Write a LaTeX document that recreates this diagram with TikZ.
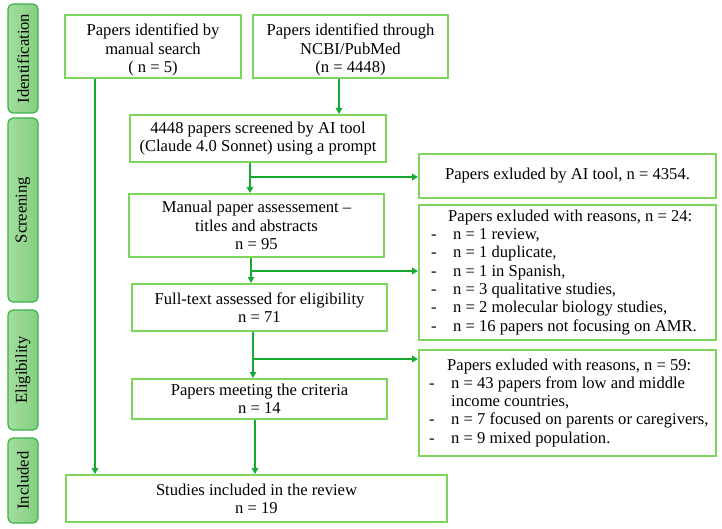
\documentclass[tikz,border=0pt]{standalone}
\usepackage{fontspec}
\setmainfont{Liberation Serif}
\usetikzlibrary{arrows.meta}
\definecolor{boxgreen}{HTML}{7DD65A}
\definecolor{arrgreen}{HTML}{16AA32}
\definecolor{phasefillL}{HTML}{A3DD9E}
\definecolor{phasefillR}{HTML}{84CF80}
\definecolor{phaseline}{HTML}{3DB04B}
\begin{document}
\begin{tikzpicture}[x=1pt,y=-1pt,
  font=\fontsize{16.6}{18.3}\selectfont,
  box/.style={draw=boxgreen,line width=2pt,inner sep=0pt,align=center},
  arr/.style={draw=arrgreen,line width=1.6pt,-{Triangle[length=6pt,width=6.5pt]}},
  phase/.style={draw=phaseline,line width=1.2pt,rounded corners=5pt,left color=phasefillL,right color=phasefillR,rotate=90,minimum height=30pt,inner sep=0pt},
  txt/.style={inner sep=0pt,align=left}]
\useasboundingbox (0,0) rectangle (722,529);

% phase labels
\node[phase,minimum width=109pt] (pid) at (23,58.5) {Identification};
\node[phase,minimum width=184pt] (psc) at (23,210) {Screening};
\node[phase,minimum width=120pt] (pel) at (23,370) {Eligibility};
\node[phase,minimum width=85pt] (pin) at (23,480.5) {Included};

% boxes
\node[box,minimum width=176pt,minimum height=63pt] (manual) at (153,46.5) {\rule{0pt}{19pt}Papers identified by\\manual search\\( n = 5)};
\node[box,minimum width=195pt,minimum height=63pt] (pubmed) at (350.5,46.5) {\rule{0pt}{19pt}Papers identified through\\NCBI/PubMed\\(n = 4448)};
\node[box,minimum width=256pt,minimum height=47pt] (ai) at (258,138.5) {4448 papers screened by AI tool\\(Claude 4.0 Sonnet) using a prompt};
\node[box,minimum width=297pt,minimum height=44pt] (exai) at (567.5,176) {Papers exluded by AI tool, n = 4354.};
\node[box,minimum width=255pt,minimum height=63pt] (manass) at (256.5,225.5) {Manual paper assessement --\\titles and abstracts\\n = 95};
\node[box,minimum width=297pt,minimum height=135pt] (ex24) at (567.5,272.5) {};
\node[box,minimum width=255pt,minimum height=47pt] (full) at (259.5,307.5) {Full-text assessed for eligibility\\n = 71};
\node[box,minimum width=297pt,minimum height=106pt] (ex59) at (567.5,403) {};
\node[box,minimum width=255pt,minimum height=40pt] (meet) at (259.5,399) {Papers meeting the criteria\\n = 14};
\node[box,minimum width=381pt,minimum height=47pt] (studies) at (256.5,498.5) {Studies included in the review\\n = 19};

% exclusion lists
\node[txt,anchor=west] (ex24t) at ([xshift=13pt]ex24.west) {\begin{tabular}{@{}p{22pt}@{}l@{}}
\multicolumn{2}{@{}l@{}}{\hspace*{17pt}Papers exluded with reasons, n = 24:}\\
- & n = 1 review,\\
- & n = 1 duplicate,\\
- & n = 1 in Spanish,\\
- & n = 3 qualitative studies,\\
- & n = 2 molecular biology studies,\\
- & n = 16 papers not focusing on AMR.
\end{tabular}};
\node[txt,anchor=west] (ex59t) at ([xshift=11pt]ex59.west) {\begin{tabular}{@{}p{22pt}@{}l@{}}
\multicolumn{2}{@{}l@{}}{\hspace*{18pt}Papers exluded with reasons, n = 59:}\\
- & n = 43 papers from low and middle\\
  & income countries,\\
- & n = 7 focused on parents or caregivers,\\
- & n = 9 mixed population.
\end{tabular}};

% connectors
\coordinate (xp) at (339,0);
\coordinate (xm) at (95,0);
\coordinate (xa) at (250,0);
\coordinate (xb) at (251,0);
\coordinate (xc) at (253,0);
\coordinate (xd) at (255,0);
\coordinate (b1) at (250,177);
\coordinate (b2) at (251,271);
\coordinate (b3) at (253,359);

\draw[arr] (pubmed.south -| xp) -- (ai.north -| xp);
\draw[arr] (manual.south -| xm) -- (studies.north -| xm);
\draw[arr] (ai.south -| xa) -- (manass.north -| xa);
\draw[arr] (b1) -- (b1 -| exai.west);
\draw[arr] (manass.south -| xb) -- (full.north -| xb);
\draw[arr] (b2) -- (b2 -| ex24.west);
\draw[arr] (full.south -| xc) -- (meet.north -| xc);
\draw[arr] (b3) -- (b3 -| ex59.west);
\draw[arr] (meet.south -| xd) -- (studies.north -| xd);
\end{tikzpicture}
\end{document}
